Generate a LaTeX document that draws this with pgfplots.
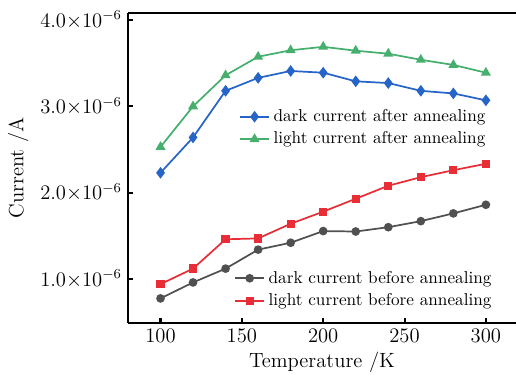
\documentclass[border=0pt]{standalone}
\usepackage{pgfplots}
\pgfplotsset{compat=1.18}
\definecolor{cblue}{RGB}{38,100,200}
\definecolor{cgreen}{RGB}{70,175,110}
\definecolor{cred}{RGB}{232,45,55}
\definecolor{cgray}{RGB}{80,80,80}
\begin{document}
\begin{tikzpicture}
\pgfplotsset{
  common/.style={
    scale only axis, width=225.6pt, height=180.4pt,
    xmin=80, xmax=318.5, ymin=0.49, ymax=4.085,
    axis x line*=bottom, axis y line*=left,
    axis line style={line width=1.7pt},
    tick align=inside, major tick length=3pt,
    every tick/.style={line width=1.2pt, black},
    xtick={100,150,200,250,300},
    ytick={1,2,3,4},
    yticklabels={$1.0{\times}10^{-6}$,$2.0{\times}10^{-6}$,$3.0{\times}10^{-6}$,$4.0{\times}10^{-6}$},
    tick label style={font=\large},
    legend cell align=left,
    legend style={draw=none, fill=none, font=\normalsize, row sep=0.5pt, inner sep=1pt},
    every axis plot/.append style={line width=1pt},
  }
}
\begin{axis}[common,
  xlabel={Temperature /K}, ylabel={Current /A},
  label style={font=\large},
  xlabel style={yshift=1.5pt}, ylabel style={yshift=0pt},
  legend style={at={(axis cs:147,2.75)}, anchor=west},
]
\coordinate (sw) at (rel axis cs:0,0);
\coordinate (ne) at (rel axis cs:1,1);
\addplot[cblue, mark=diamond*, mark size=2.6pt] coordinates {
(100,2.23) (120,2.64) (140,3.18) (160,3.33) (180,3.41) (200,3.39) (220,3.29) (240,3.27) (260,3.18) (280,3.15) (300,3.07)};
\addlegendentry{dark current after annealing}
\addplot[cgreen, mark=triangle*, mark size=2.4pt] coordinates {
(100,2.53) (120,3.00) (140,3.36) (160,3.575) (180,3.65) (200,3.69) (220,3.645) (240,3.61) (260,3.54) (280,3.48) (300,3.39)};
\addlegendentry{light current after annealing}
\draw[line width=1.7pt] (rel axis cs:0,1) -- (rel axis cs:1,1);
\end{axis}
\begin{axis}[common, hide axis,
  legend style={at={(axis cs:144,0.878)}, anchor=west},
]
\addplot[cgray, mark=*, mark size=2pt] coordinates {
(100,0.775) (120,0.96) (140,1.12) (160,1.34) (180,1.42) (200,1.555) (220,1.55) (240,1.60) (260,1.67) (280,1.76) (300,1.86)};
\addlegendentry{dark current before annealing}
\addplot[cred, mark=square*, mark size=1.9pt] coordinates {
(100,0.94) (120,1.12) (140,1.46) (160,1.47) (180,1.64) (200,1.78) (220,1.93) (240,2.08) (260,2.18) (280,2.26) (300,2.335)};
\addlegendentry{light current before annealing}
\end{axis}
\pgfresetboundingbox
\path ([xshift=-74.4pt,yshift=-29.7pt]sw) rectangle ([yshift=7.4pt]ne);
\end{tikzpicture}
\end{document}
